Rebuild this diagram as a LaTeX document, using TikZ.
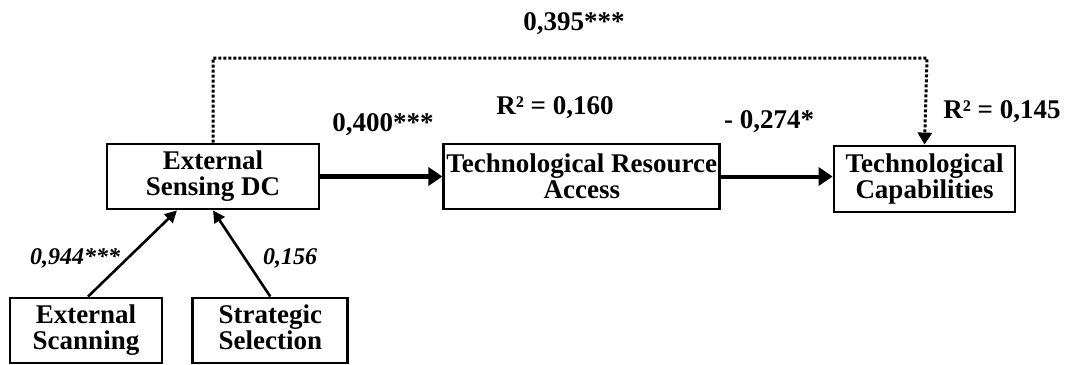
\documentclass[tikz,border=0pt]{standalone}
\usepackage{fontspec}
\setmainfont{Liberation Serif}
\usepackage{tikz}
\usetikzlibrary{arrows.meta,positioning,calc}

\begin{document}
\begin{tikzpicture}[x=0.5pt, y=-0.5pt,
    box/.style={rectangle, draw, line width=1.4pt, inner sep=0pt, minimum height=32.5pt, font=\fontsize{13.5}{13}\selectfont\bfseries, align=center},
    lbl/.style={font=\fontsize{13.5}{13}\selectfont\bfseries, inner sep=0pt},
    coef/.style={font=\fontsize{12}{12}\selectfont\bfseries\itshape, inner sep=0pt},
    arrow/.style={-{Triangle[length=7pt,width=9pt]}, line width=2.4pt},
    thinarrow/.style={-{Triangle[length=6pt,width=6pt]}, line width=1.3pt},
    dotarrow/.style={-{Triangle[length=6pt,width=7pt]}, line width=1.5pt, dash pattern=on 1.5pt off 1pt}
]
    \useasboundingbox (0,0) rectangle (1070,364);

    % Sensing capability
    \node[box, minimum width=106pt] (esdc) at (213,176.5) {External\\Sensing DC};

    % Resources and capabilities
    \node[box, minimum width=138pt, right=61pt of esdc] (tra) {Technological Resource\\Access};
    \node[box, minimum width=90.5pt, minimum height=33pt] (tc) at (924.5,179) {Technological\\Capabilities};

    % Antecedents
    \node[box, minimum width=76pt] (es) at (86,330.5) {External\\Scanning};
    \node[box, minimum width=77.5pt, right=14pt of es] (ss) {Strategic\\Selection\vphantom{g}};

    % Direct path
    \coordinate (bend) at (927,58);
    \draw[dotarrow] (esdc.north) |- (bend) -- (tc.north);
    \node[lbl] (c395) at (574,24) {0,395***};

    % Arrows
    \draw[arrow] (esdc.east) -- (tra.west);
    \draw[arrow, line width=2pt] (tra.east) -- (tc.west |- tra.east);
    \draw[thinarrow] ([xshift=1pt]es.north) -- ([xshift=-18pt]esdc.south);
    \draw[thinarrow] (ss.north) -- (esdc.south);

    % Labels
    \node[lbl] (c400) at (383,125) {0,400***};
    \node[lbl] (r160) at (555,108) {R² = 0,160};
    \node[lbl] (c274) at (769,122) {- 0,274*};
    \node[lbl] (r145) at (1002,112) {R² = 0,145};
    \node[coef] (c944) at (75,258) {0,944***};
    \node[coef] (c156) at (290,258) {0,156};
\end{tikzpicture}
\end{document}
